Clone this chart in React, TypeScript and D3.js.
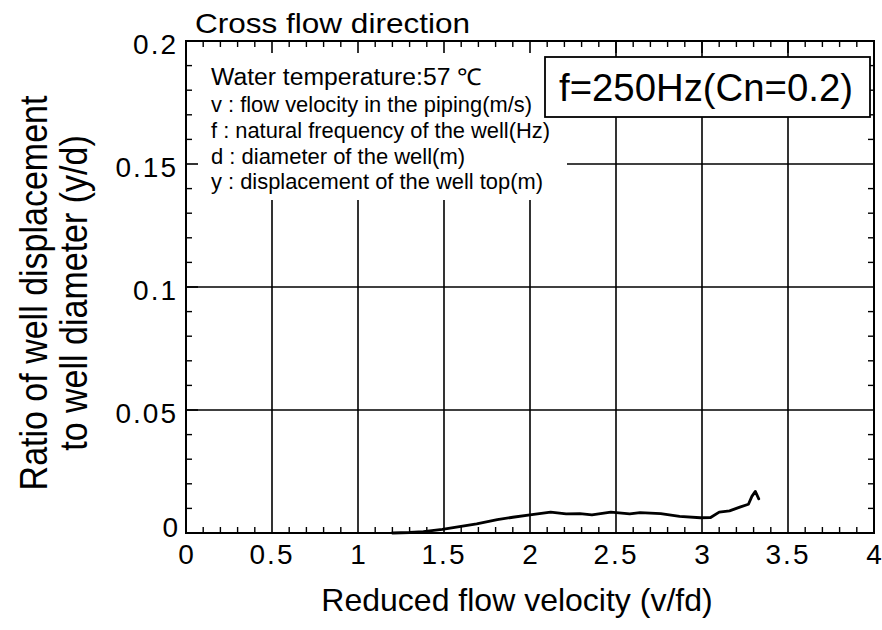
import React from 'react';
import * as d3 from 'd3';

const xTickValues = [0, 0.5, 1, 1.5, 2, 2.5, 3, 3.5, 4];
const xTickLabels = ['0', '0.5', '1', '1.5', '2', '2.5', '3', '3.5', '4'];
const yTickValues = [0, 0.05, 0.1, 0.15, 0.2];
const yTickLabels = ['0', '0.05', '0.1', '0.15', '0.2'];
const xGridValues = [0.5, 1, 1.5, 2, 2.5, 3, 3.5];
const yGridValues = [0.05, 0.1, 0.15];

const reducedVelocity = [1.2, 1.3, 1.38, 1.49, 1.59, 1.69, 1.81, 1.9, 2.0, 2.12, 2.21, 2.29, 2.36, 2.47, 2.58, 2.64, 2.76, 2.87, 2.99, 3.05, 3.1, 3.16, 3.22, 3.27, 3.29, 3.31, 3.33];
const displacementRatio = [0, 0.0002, 0.0006, 0.0015, 0.0026, 0.0037, 0.0054, 0.0064, 0.0074, 0.0085, 0.0078, 0.0079, 0.0074, 0.0085, 0.0078, 0.0083, 0.0079, 0.0068, 0.0062, 0.0063, 0.0085, 0.009, 0.0105, 0.0117, 0.0149, 0.0169, 0.0139];

const titleText = 'Cross flow direction';
const legendLines = [
  'Water temperature:57 \u2103',
  'v : flow velocity in the piping(m/s)',
  'f : natural frequency of the well(Hz)',
  'd : diameter of the well(m)',
  'y : displacement of the well top(m)',
];
const caseText = 'f=250Hz(Cn=0.2)';
const xTitle = 'Reduced flow velocity (v/fd)';
const yTitleLines = ['Ratio of well displacement', 'to well diameter (y/d)'];

const FONT = '"Liberation Sans", Arial, Helvetica, sans-serif';

export default function App() {
  const W = 882;
  const H = 630;
  const x = d3.scaleLinear().domain([0, 4]).range([186, 874]);
  const y = d3.scaleLinear().domain([0, 0.2]).range([533, 41]);

  const xMinor = d3.range(0, 41).map((i) => i / 10).filter((v) => Math.abs(v * 2 - Math.round(v * 2)) > 1e-6);
  const yMinor = d3.range(0, 21).map((i) => i / 100).filter((v) => Math.abs(v * 20 - Math.round(v * 20)) > 1e-6);

  const data = reducedVelocity.map((v, i) => [v, displacementRatio[i]] as [number, number]);
  const line = d3
    .line<[number, number]>()
    .x((d) => x(d[0]))
    .y((d) => y(d[1]))
    .curve(d3.curveLinear);

  const x0 = x(0);
  const x1 = x(4);
  const yTop = y(0.2);
  const yBot = y(0);

  const legendWidths = [271, 321, 339, 254, 332];
  const legendSizes = [23, 22, 22, 22, 22];
  const legendBaselines = [85, 112, 138, 164, 189];

  return (
    <svg
      width={W}
      height={H}
      viewBox={`0 0 ${W} ${H}`}
      style={{ position: 'absolute', left: 0, top: 0, background: '#fff' }}
      fontFamily={FONT}
    >
      <rect x={0} y={0} width={W} height={H} fill="#fff" />
      {/* grid */}
      {xGridValues.map((v) => (
        <line key={'gx' + v} x1={x(v)} x2={x(v)} y1={yTop} y2={yBot} stroke="#000" strokeWidth={1.6} />
      ))}
      {yGridValues.map((v) => (
        <line key={'gy' + v} x1={x0} x2={x1} y1={y(v)} y2={y(v)} stroke="#000" strokeWidth={1.6} />
      ))}
      {/* legend background */}
      <rect x={x0 + 1} y={yTop + 1} width={567 - x0 - 1} height={200 - yTop - 1} fill="#fff" />
      {/* curve */}
      <path d={line(data) || ''} fill="none" stroke="#000" strokeWidth={2.8} strokeLinejoin="round" strokeLinecap="round" />
      {/* frame */}
      <rect x={x0} y={yTop} width={x1 - x0} height={yBot - yTop} fill="none" stroke="#000" strokeWidth={2} />
      {/* minor ticks */}
      {xMinor.map((v) => (
        <g key={'mx' + v}>
          <line x1={x(v)} x2={x(v)} y1={yBot} y2={yBot - 6} stroke="#000" strokeWidth={1.4} />
          <line x1={x(v)} x2={x(v)} y1={yTop} y2={yTop + 6} stroke="#000" strokeWidth={1.4} />
        </g>
      ))}
      {xGridValues.map((v) => (
        <line key={'tx' + v} x1={x(v)} x2={x(v)} y1={yTop} y2={yTop + 12} stroke="#000" strokeWidth={1.6} />
      ))}
      {yMinor.map((v) => (
        <g key={'my' + v}>
          <line x1={x0} x2={x0 + 6} y1={y(v)} y2={y(v)} stroke="#000" strokeWidth={1.4} />
          <line x1={x1} x2={x1 - 6} y1={y(v)} y2={y(v)} stroke="#000" strokeWidth={1.4} />
        </g>
      ))}
      {yGridValues.map((v) => (
        <line key={'ty' + v} x1={x0} x2={x0 + 12} y1={y(v)} y2={y(v)} stroke="#000" strokeWidth={1.6} />
      ))}
      {/* tick labels */}
      {xTickValues.map((v, i) => (
        <text key={'xl' + v} x={x(v)} y={564} fontSize={28} textAnchor="middle" letterSpacing={xTickLabels[i].length > 1 ? 2 : 0} fill="#000">
          {xTickLabels[i]}
        </text>
      ))}
      {yTickValues.map((v, i) => (
        <text key={'yl' + v} x={178} y={y(v) + (v === 0 ? 4 : 13)} fontSize={28} textAnchor="end" letterSpacing={yTickLabels[i].length > 1 ? 2 : 0} fill="#000">
          {yTickLabels[i]}
        </text>
      ))}
      {/* title */}
      <text x={195} y={33} fontSize={28} textLength={275} lengthAdjust="spacingAndGlyphs" fill="#000">
        {titleText}
      </text>
      {/* legend */}
      {legendLines.map((t, i) => (
        <text key={'lg' + i} x={211} y={legendBaselines[i]} fontSize={legendSizes[i]} textLength={legendWidths[i]} lengthAdjust="spacingAndGlyphs" fill="#000">
          {t}
        </text>
      ))}
      {/* case box */}
      <rect x={545} y={57} width={325} height={60} fill="#fff" stroke="#000" strokeWidth={1.8} />
      <text x={559} y={101} fontSize={39} textLength={294} lengthAdjust="spacingAndGlyphs" fill="#000">
        {caseText}
      </text>
      {/* axis titles */}
      <text x={517} y={611} fontSize={32} textAnchor="middle" fill="#000">
        {xTitle}
      </text>
      {yTitleLines.map((t, i) => (
        <text key={'yt' + i} transform={`translate(${47 + i * 40},${293}) rotate(-90) scale(1,1.15)`} fontSize={34} textAnchor="middle" fill="#000">
          {t}
        </text>
      ))}
    </svg>
  );
}
